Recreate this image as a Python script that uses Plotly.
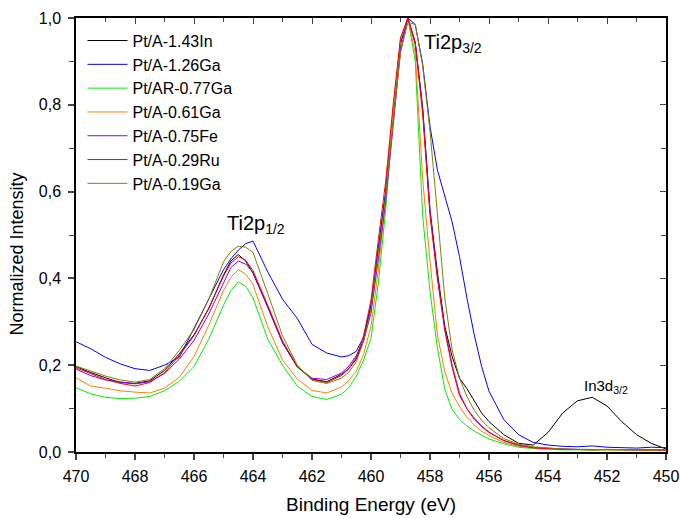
import plotly.graph_objects as go

energy = [470, 469.5, 469, 468.5, 468, 467.5, 467, 466.5, 466, 465.5, 465, 464.75, 464.5, 464.25, 464, 463.5, 463, 462.5, 462, 461.5, 461,
          460.75, 460.5, 460.25, 460, 459.75, 459.5, 459.25, 459, 458.75, 458.5, 458.25, 458, 457.75, 457.5, 457.25, 457,
          456.75, 456.5, 456.25, 456, 455.5, 455, 454.5, 454, 453.5, 453, 452.5, 452, 451.5, 451, 450.5, 450]

pt_in143 = [0.197, 0.183, 0.171, 0.160, 0.158, 0.164, 0.188, 0.226, 0.270, 0.330, 0.408, 0.440, 0.455, 0.440, 0.412, 0.335, 0.252, 0.196, 0.168, 0.162, 0.179,
            0.192, 0.214, 0.258, 0.335, 0.470, 0.600, 0.785, 0.945, 1.000, 0.942, 0.795, 0.558, 0.415, 0.290, 0.220, 0.170,
            0.146, 0.118, 0.090, 0.070, 0.040, 0.020, 0.016, 0.045, 0.090, 0.118, 0.126, 0.106, 0.070, 0.040, 0.020, 0.007]

pt_ga126 = [0.254, 0.238, 0.218, 0.203, 0.192, 0.188, 0.200, 0.218, 0.285, 0.352, 0.420, 0.445, 0.465, 0.480, 0.486, 0.415, 0.352, 0.308, 0.248, 0.228, 0.219,
            0.222, 0.232, 0.265, 0.340, 0.470, 0.600, 0.780, 0.940, 1.000, 0.985, 0.895, 0.750, 0.650, 0.588, 0.530, 0.450,
            0.355, 0.270, 0.197, 0.140, 0.075, 0.040, 0.022, 0.016, 0.013, 0.012, 0.014, 0.011, 0.010, 0.009, 0.011, 0.010]

pt_ar_ga077 = [0.148, 0.134, 0.126, 0.123, 0.124, 0.128, 0.141, 0.163, 0.197, 0.260, 0.338, 0.372, 0.392, 0.382, 0.355, 0.260, 0.200, 0.152, 0.128, 0.121, 0.133,
               0.148, 0.175, 0.212, 0.262, 0.390, 0.560, 0.780, 0.950, 1.000, 0.900, 0.545, 0.370, 0.240, 0.145, 0.098, 0.075,
               0.060, 0.048, 0.038, 0.030, 0.019, 0.011, 0.008, 0.006, 0.005, 0.005, 0.004, 0.005, 0.004, 0.004, 0.004, 0.004]

pt_ga061 = [0.171, 0.152, 0.147, 0.141, 0.138, 0.136, 0.147, 0.172, 0.220, 0.292, 0.372, 0.403, 0.420, 0.410, 0.386, 0.288, 0.212, 0.168, 0.142, 0.136, 0.150,
            0.165, 0.186, 0.225, 0.290, 0.420, 0.585, 0.790, 0.950, 1.000, 0.920, 0.630, 0.440, 0.270, 0.185, 0.135, 0.105,
            0.080, 0.062, 0.048, 0.038, 0.022, 0.013, 0.009, 0.007, 0.006, 0.005, 0.005, 0.005, 0.005, 0.004, 0.004, 0.004]

pt_fe075 = [0.191, 0.176, 0.166, 0.161, 0.157, 0.162, 0.181, 0.214, 0.257, 0.318, 0.392, 0.425, 0.440, 0.433, 0.414, 0.332, 0.252, 0.197, 0.170, 0.167, 0.182,
            0.198, 0.222, 0.256, 0.320, 0.445, 0.580, 0.750, 0.925, 1.000, 0.945, 0.790, 0.555, 0.405, 0.285, 0.200, 0.135,
            0.100, 0.078, 0.060, 0.046, 0.026, 0.015, 0.010, 0.008, 0.007, 0.006, 0.006, 0.005, 0.006, 0.005, 0.005, 0.005]

pt_ru029 = [0.194, 0.180, 0.167, 0.158, 0.152, 0.160, 0.183, 0.222, 0.268, 0.332, 0.405, 0.435, 0.450, 0.442, 0.418, 0.338, 0.256, 0.198, 0.167, 0.160, 0.176,
            0.192, 0.218, 0.268, 0.350, 0.490, 0.625, 0.800, 0.955, 1.000, 0.940, 0.780, 0.545, 0.400, 0.280, 0.195, 0.130,
            0.100, 0.075, 0.058, 0.045, 0.027, 0.016, 0.010, 0.008, 0.006, 0.006, 0.005, 0.006, 0.005, 0.005, 0.005, 0.004]

pt_ga019 = [0.198, 0.186, 0.175, 0.166, 0.161, 0.167, 0.192, 0.234, 0.282, 0.352, 0.438, 0.462, 0.474, 0.472, 0.460, 0.365, 0.268, 0.200, 0.165, 0.158, 0.170,
            0.184, 0.208, 0.255, 0.330, 0.460, 0.590, 0.760, 0.920, 0.990, 0.985, 0.890, 0.740, 0.550, 0.355, 0.235, 0.170,
            0.128, 0.096, 0.073, 0.056, 0.031, 0.018, 0.012, 0.009, 0.007, 0.006, 0.006, 0.005, 0.005, 0.005, 0.005, 0.005]

series_names = ["Pt/A-1.43In", "Pt/A-1.26Ga", "Pt/AR-0.77Ga", "Pt/A-0.61Ga", "Pt/A-0.75Fe", "Pt/A-0.29Ru", "Pt/A-0.19Ga"]
series_values = [pt_in143, pt_ga126, pt_ar_ga077, pt_ga061, pt_fe075, pt_ru029, pt_ga019]
series_colors = ["#000000", "#0000FF", "#00F000", "#FF8000", "#8000FF", "#FF0000", "#808000"]

x_ticks = [470, 468, 466, 464, 462, 460, 458, 456, 454, 452, 450]
y_ticks = [0.0, 0.2, 0.4, 0.6, 0.8, 1.0]

FONT = "Arial, Liberation Sans, sans-serif"

fig = go.Figure()
for name, vals, col in zip(series_names, series_values, series_colors):
    fig.add_trace(go.Scatter(x=energy, y=vals, mode="lines", name=name,
                             line=dict(color=col, width=1)))

# dummy trace for the mirrored (top/right) axes with inward ticks
fig.add_trace(go.Scatter(x=[None], y=[None], xaxis="x2", yaxis="y2", showlegend=False, hoverinfo="skip"))

axis_common = dict(showline=True, linecolor="black", linewidth=1.5, showgrid=False, zeroline=False,
                   automargin=False)

fig.update_layout(
    width=680, height=518,
    margin=dict(l=76, r=14, t=18, b=66),
    paper_bgcolor="white", plot_bgcolor="white",
    separators=",.",
    font=dict(family=FONT, color="black", size=16),
    showlegend=True,
    legend=dict(x=0.011, y=0.987, xanchor="left", yanchor="top", bgcolor="rgba(0,0,0,0)",
                font=dict(size=16, family=FONT), tracegroupgap=0, itemwidth=40),
    xaxis=dict(range=[470, 450], tickvals=x_ticks, ticks="outside", ticklen=6, tickwidth=1.5,
               tickfont=dict(size=16), ticklabelstandoff=3,
               minor=dict(dtick=1, ticks="outside", ticklen=4, tickwidth=1.2),
               **axis_common),
    yaxis=dict(range=[0, 1.0], tickvals=y_ticks, tickformat=".1f", ticks="outside", ticklen=6, tickwidth=1.5,
               tickfont=dict(size=16), ticklabelstandoff=4,
               minor=dict(dtick=0.1, ticks="outside", ticklen=5, tickwidth=1.2),
               **axis_common),
    xaxis2=dict(overlaying="x", side="top", range=[470, 450], tickvals=x_ticks, ticks="inside", ticklen=6,
                tickwidth=1.2, showticklabels=False, minor=dict(dtick=1, ticks="inside", ticklen=4),
                **axis_common),
    yaxis2=dict(overlaying="y", side="right", range=[0, 1.0], tickvals=y_ticks, ticks="inside", ticklen=6,
                tickwidth=1.2, showticklabels=False, minor=dict(dtick=0.1, ticks="inside", ticklen=5),
                **axis_common),
    annotations=[
        dict(text="Binding Energy (eV)", xref="paper", yref="paper", x=0.5, y=-0.122, xanchor="center",
             yanchor="middle", showarrow=False, font=dict(size=19, family=FONT)),
        dict(text="Normalized Intensity", xref="paper", yref="paper", x=-0.1, y=0.455, xanchor="center",
             yanchor="middle", textangle=-90, showarrow=False, font=dict(size=18, family=FONT)),
        dict(text="Ti2p<sub>3/2</sub>", x=458.28, y=0.942, xref="x", yref="y", xanchor="left", yanchor="middle",
             showarrow=False, font=dict(size=20, family=FONT)),
        dict(text="Ti2p<sub>1/2</sub>", x=464.95, y=0.525, xref="x", yref="y", xanchor="left", yanchor="middle",
             showarrow=False, font=dict(size=20, family=FONT)),
        dict(text="In3d<sub>3/2</sub>", x=452.85, y=0.152, xref="x", yref="y", xanchor="left", yanchor="middle",
             showarrow=False, font=dict(size=15, family=FONT)),
    ],
)

fig.write_html("out.html")
